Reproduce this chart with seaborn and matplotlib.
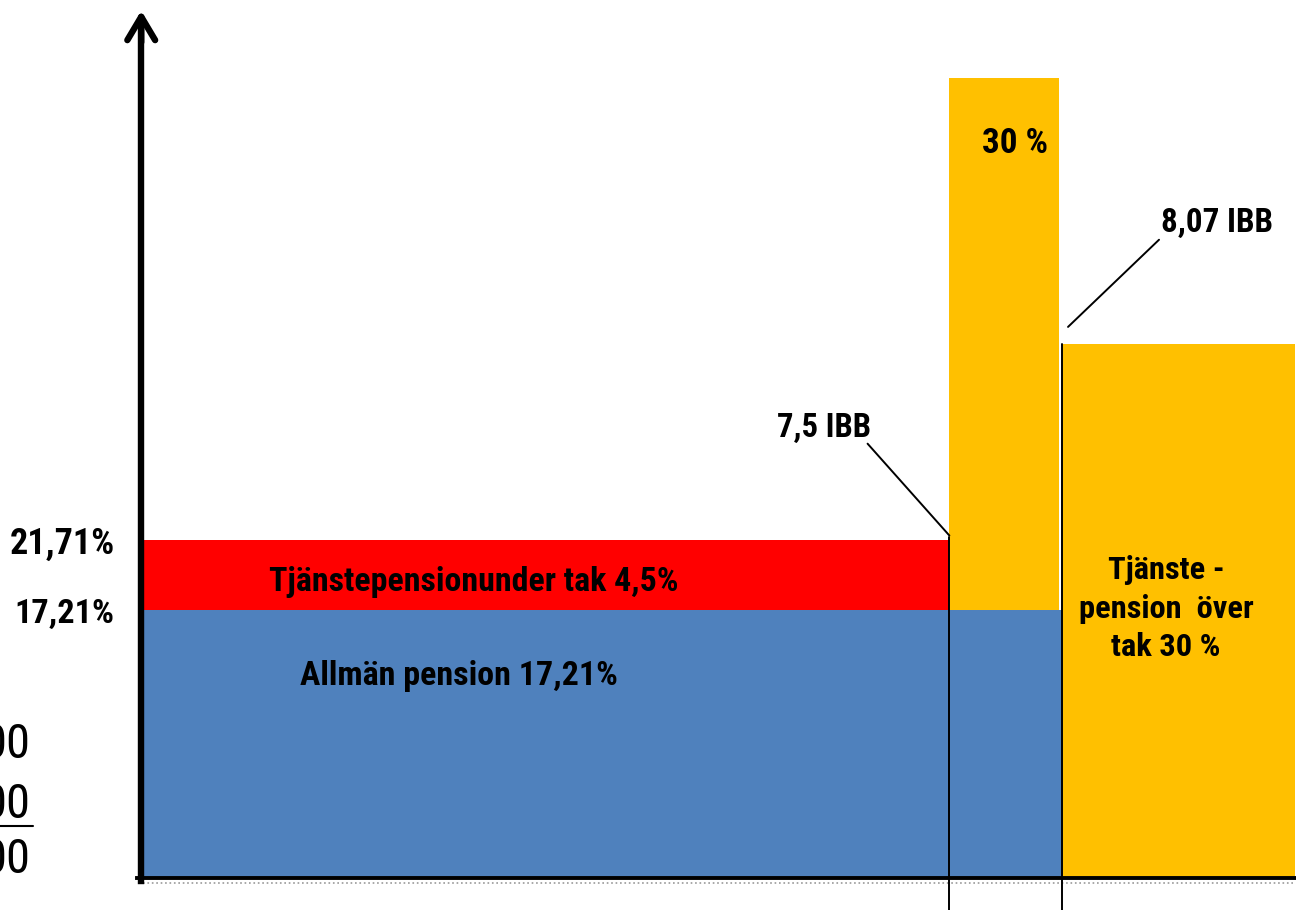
import matplotlib
matplotlib.use("Agg")
import matplotlib.pyplot as plt
import matplotlib.font_manager as fm
import seaborn as sns

# Avgifter till pension per inkomstintervall (schematisk x-skala, y i procent)
segment_names = ["Allmän pension", "Tjänstepension under tak",
                 "Tjänstepension 7,5-8,07 IBB", "Tjänstepension över tak"]
seg_left = [0, 0, 70.0, 79.8]
seg_width = [79.8, 70.0, 9.5, 20.2]
seg_bottom = [0, 17.21, 17.21, 0]
seg_height = [17.21, 4.5, 34.2, 34.3]
seg_colors = ["#4F81BD", "#FF0000", "#FFC000", "#FFC000"]

ibb_breaks = [70.0, 79.8]
ibb_line_top = [21.9, 34.3]
ibb_labels = ["7,5 IBB", "8,07 IBB"]

ytick_vals = [17.21, 21.71]
ytick_labels = ["17,21%", "21,71%"]

left_fragments = ["00", "00", "00"]
left_fragment_y = [8.54, 4.69, 1.16]

sns.set_theme(style="white")

# the original uses a condensed bold face; take a narrow one if installed
narrow_pref = ['Roboto Condensed', 'Open Sans Condensed', 'Liberation Sans Narrow',
               'Noto Sans Condensed', 'DejaVu Sans Condensed']
names = {f.name for f in fm.fontManager.ttflist}
cond_names = {f.name for f in fm.fontManager.ttflist
              if 'ondensed' in str(f.stretch) or 'Condensed' in f.name or 'Narrow' in f.name}
family = None
stretch = 'normal'
for n in narrow_pref:
    if n in names:
        family = n
        break
if family is None and cond_names:
    for n in ['Noto Sans', 'DejaVu Sans', 'Open Sans', 'Roboto']:
        if n in cond_names:
            family = n
            stretch = 'condensed'
            break
if family is None:
    family = 'Liberation Sans'
plt.rcParams['font.family'] = [family, 'DejaVu Sans']
plt.rcParams['font.stretch'] = stretch
plt.rcParams['text.color'] = 'black'
plt.rcParams['ytick.color'] = 'black'

fig = plt.figure(figsize=(12.96, 9.10), dpi=100)
ax = fig.add_axes([0, 0, 1, 1])
ax.set_xlim(-12.41, 100.09)
ax.set_ylim(-2.055, 56.4)

ax.bar(seg_left, seg_height, width=seg_width, bottom=seg_bottom,
       color=seg_colors, align='edge', linewidth=0, zorder=2)

# axes with arrow
for side in ['top', 'right']:
    ax.spines[side].set_visible(False)
ax.spines['left'].set_position(('data', -0.15))
ax.spines['bottom'].set_position(('data', 0))
ax.spines['left'].set_bounds(-0.2, 54.8)
ax.spines['bottom'].set_bounds(-0.5, 100)
ax.spines['left'].set_linewidth(4.6)
ax.spines['bottom'].set_linewidth(2.8)
for side in ['left', 'bottom']:
    ax.spines[side].set_color('black')
    ax.spines[side].set_zorder(5)
ax.annotate('', xy=(-0.15, 55.9), xytext=(-0.15, 53.5),
            arrowprops=dict(arrowstyle='->,head_length=0.42,head_width=0.25',
                            lw=4.6, color='black', mutation_scale=40))
ax.plot([0, 100], [-0.35, -0.35], color='#999999', lw=1.2, ls=':', zorder=1)

ax.set_xticks([])
ax.set_yticks(ytick_vals)
ax.set_yticklabels(ytick_labels, fontsize=27, fontweight='bold')
ax.tick_params(axis='y', length=0, pad=19)
ax.grid(False)

# IBB boundaries and leaders
for xb, top in zip(ibb_breaks, ibb_line_top):
    ax.plot([xb, xb], [top, -2.1], color='black', lw=1.4, zorder=4, clip_on=False)
ax.plot([62.9, 70.0], [27.9, 22.0], color='black', lw=1.4, zorder=4)
ax.plot([80.3, 88.2], [35.4, 41.0], color='black', lw=1.4, zorder=4)

bold = dict(fontsize=27, fontweight='bold', ha='center', va='center', zorder=6)
fit = []  # (text, max width in px)
fit.append((ax.text(59.1, 28.9, ibb_labels[0], **bold), 94))
fit.append((ax.text(93.2, 42.1, ibb_labels[1], **bold), 112))

# block labels
fit.append((ax.text(28.7, 19.0, "Tjänstepensionunder tak 4,5%", **bold), 410))
fit.append((ax.text(27.4, 13.0, "Allmän pension 17,21%", **bold), 318))
fit.append((ax.text(75.7, 47.2, "30 %", **bold), 66))
fit.append((ax.text(88.8, 17.3, "Tjänste -\npension  över\ntak 30 %", linespacing=1.35,
                    multialignment='center', **bold), 175))

# cut-off numbers at the left edge
for txt, yy in zip(left_fragments, left_fragment_y):
    ax.text(-9.8, yy, txt, fontsize=35, ha='right', va='center', clip_on=False)
ax.plot([-12.41, -9.55], [3.34, 3.34], color='black', lw=1.5, clip_on=False)

# shrink labels that come out wider than in the original
fig.canvas.draw()
renderer = fig.canvas.get_renderer()
for lab, w in zip(ax.get_yticklabels(), [100, 105]):
    fit.append((lab, w))
for t, w in fit:
    bw = t.get_window_extent(renderer).width
    if bw > w:
        t.set_fontsize(t.get_fontsize() * w / bw)

fig.savefig('out.png', dpi=100)
